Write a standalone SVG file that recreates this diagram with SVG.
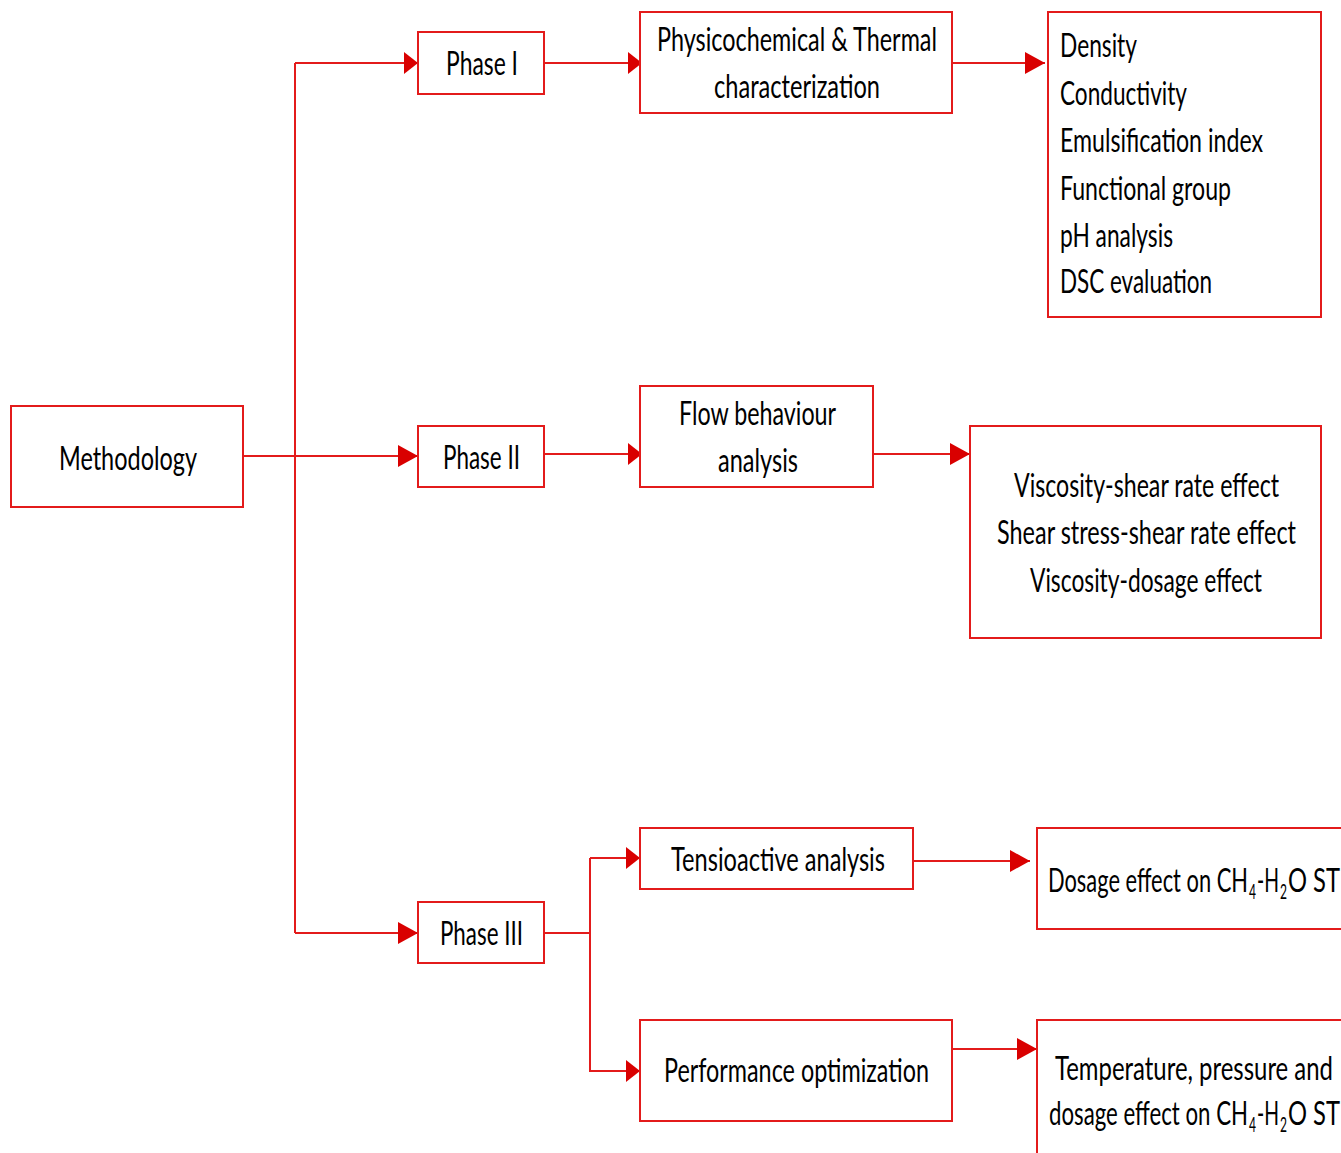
<svg xmlns="http://www.w3.org/2000/svg" width="1341" height="1153" viewBox="0 0 1341 1153">
<style>
.box{fill:#fff;stroke:#e31b1b;stroke-width:2}
.c{fill:none;stroke:#e31b1b;stroke-width:2}
text{font-family:Lato,"Liberation Sans",sans-serif;font-size:33px;fill:#000}
.sub{font-size:22px}
</style>
<defs>
<marker id="big" markerUnits="userSpaceOnUse" markerWidth="20" markerHeight="22" refX="20" refY="11" orient="auto"><path d="M0,0L20,11L0,22z" fill="#d90000"/></marker>
<marker id="sm" markerUnits="userSpaceOnUse" markerWidth="14" markerHeight="22" refX="14" refY="11" orient="auto"><path d="M0,0L14,11L0,22z" fill="#d90000"/></marker>
</defs>
<rect width="1341" height="1153" fill="#fff"/>
<g id="connectors">
<path class="c" d="M295,63V933"/>
<path class="c" d="M295,63H418" marker-end="url(#sm)"/>
<path class="c" d="M243,456H418" marker-end="url(#big)"/>
<path class="c" d="M295,933H418" marker-end="url(#big)"/>
<path class="c" d="M544,63H642" marker-end="url(#sm)"/>
<path class="c" d="M544,454H642" marker-end="url(#sm)"/>
<path class="c" d="M952,63H1045" marker-end="url(#big)"/>
<path class="c" d="M873,454H970" marker-end="url(#big)"/>
<path class="c" d="M544,933H590V858"/>
<path class="c" d="M590,858H640" marker-end="url(#sm)"/>
<path class="c" d="M590,933V1071H640" marker-end="url(#sm)"/>
<path class="c" d="M913,861H1030" marker-end="url(#big)"/>
<path class="c" d="M952,1049H1037" marker-end="url(#big)"/>
</g>
<g id="methodology"><rect class="box" x="11" y="406" width="232" height="101"/><text x="59" y="470" textLength="138" lengthAdjust="spacingAndGlyphs">Methodology</text></g>
<g id="phase1"><rect class="box" x="418" y="32" width="126" height="62"/><text x="446" y="75" textLength="72" lengthAdjust="spacingAndGlyphs">Phase I</text></g>
<g id="phase2"><rect class="box" x="418" y="426" width="126" height="61"/><text x="443" y="469" textLength="77" lengthAdjust="spacingAndGlyphs">Phase II</text></g>
<g id="phase3"><rect class="box" x="418" y="902" width="126" height="61"/><text x="440" y="945" textLength="83" lengthAdjust="spacingAndGlyphs">Phase III</text></g>
<g id="physico"><rect class="box" x="640" y="12" width="312" height="101"/>
<text x="657" y="51" textLength="280" lengthAdjust="spacingAndGlyphs">Physicochemical &amp; Thermal</text>
<text x="714" y="98" textLength="166" lengthAdjust="spacingAndGlyphs">characterization</text></g>
<g id="props"><rect class="box" x="1048" y="12" width="273" height="305"/>
<text x="1060" y="57" textLength="77" lengthAdjust="spacingAndGlyphs">Density</text>
<text x="1060" y="105" textLength="127" lengthAdjust="spacingAndGlyphs">Conductivity</text>
<text x="1060" y="152" textLength="203" lengthAdjust="spacingAndGlyphs">Emulsification index</text>
<text x="1060" y="200" textLength="171" lengthAdjust="spacingAndGlyphs">Functional group</text>
<text x="1060" y="247" textLength="113" lengthAdjust="spacingAndGlyphs">pH analysis</text>
<text x="1060" y="293" textLength="152" lengthAdjust="spacingAndGlyphs">DSC evaluation</text></g>
<g id="flow"><rect class="box" x="640" y="386" width="233" height="101"/>
<text x="679" y="425" textLength="157" lengthAdjust="spacingAndGlyphs">Flow behaviour</text>
<text x="718" y="472" textLength="80" lengthAdjust="spacingAndGlyphs">analysis</text></g>
<g id="viscosity"><rect class="box" x="970" y="426" width="351" height="212"/>
<text x="1014" y="497" textLength="265" lengthAdjust="spacingAndGlyphs">Viscosity-shear rate effect</text>
<text x="997" y="544" textLength="299" lengthAdjust="spacingAndGlyphs">Shear stress-shear rate effect</text>
<text x="1030" y="592" textLength="232" lengthAdjust="spacingAndGlyphs">Viscosity-dosage effect</text></g>
<g id="tensio"><rect class="box" x="640" y="828" width="273" height="61"/><text x="671" y="871" textLength="214" lengthAdjust="spacingAndGlyphs">Tensioactive analysis</text></g>
<g id="dosage"><rect class="box" x="1037" y="828" width="320" height="101"/>
<text y="892"><tspan x="1048" textLength="200" lengthAdjust="spacingAndGlyphs">Dosage effect on CH</tspan><tspan class="sub" x="1249" y="899" textLength="7" lengthAdjust="spacingAndGlyphs">4</tspan><tspan x="1257" y="892" textLength="22" lengthAdjust="spacingAndGlyphs">-H</tspan><tspan class="sub" x="1280" y="899" textLength="7" lengthAdjust="spacingAndGlyphs">2</tspan><tspan x="1288" y="892" textLength="52" lengthAdjust="spacingAndGlyphs">O ST</tspan></text></g>
<g id="perf"><rect class="box" x="640" y="1020" width="312" height="101"/><text x="664" y="1082" textLength="265" lengthAdjust="spacingAndGlyphs">Performance optimization</text></g>
<g id="temp"><rect class="box" x="1037" y="1020" width="320" height="160"/>
<text x="1055" y="1080" textLength="278" lengthAdjust="spacingAndGlyphs">Temperature, pressure and</text>
<text y="1125"><tspan x="1049" textLength="199" lengthAdjust="spacingAndGlyphs">dosage effect on CH</tspan><tspan class="sub" x="1249" y="1132" textLength="7" lengthAdjust="spacingAndGlyphs">4</tspan><tspan x="1257" y="1125" textLength="22" lengthAdjust="spacingAndGlyphs">-H</tspan><tspan class="sub" x="1280" y="1132" textLength="7" lengthAdjust="spacingAndGlyphs">2</tspan><tspan x="1288" y="1125" textLength="52" lengthAdjust="spacingAndGlyphs">O ST</tspan></text></g>
</svg>
